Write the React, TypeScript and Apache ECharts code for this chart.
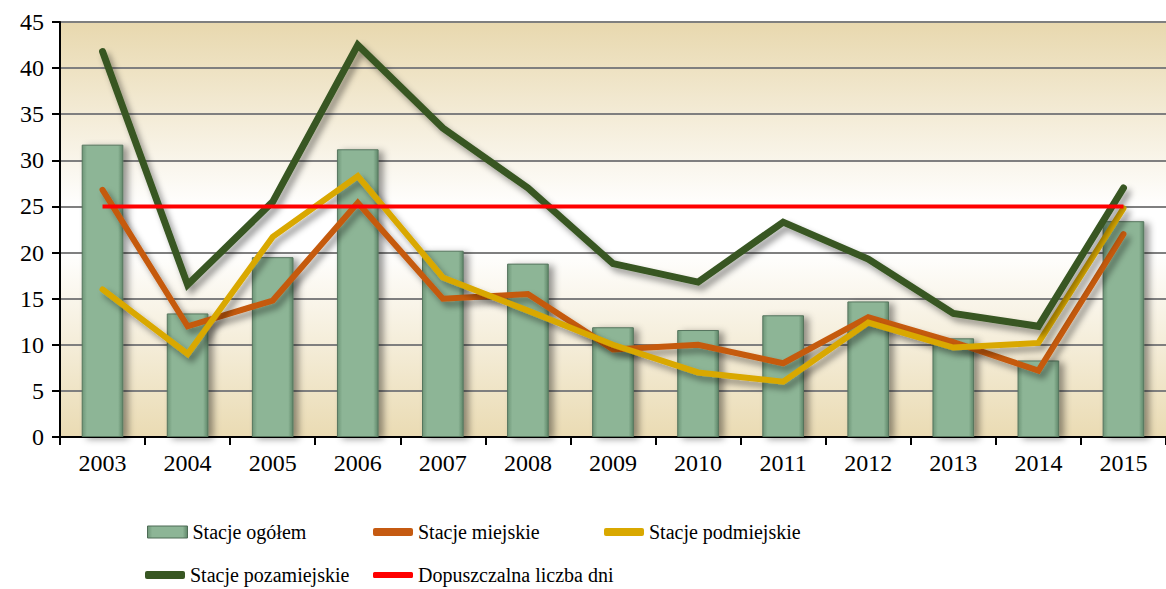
import React, { useEffect, useRef } from "react";
import * as echarts from "echarts";

const years = ["2003","2004","2005","2006","2007","2008","2009","2010","2011","2012","2013","2014","2015"];
const ogolem = [31.7, 13.4, 19.5, 31.2, 20.2, 18.8, 11.9, 11.6, 13.2, 14.7, 10.7, 8.3, 23.4];
const miejskie = [26.8, 12.0, 14.8, 25.4, 15.0, 15.5, 9.5, 10.0, 8.0, 13.0, 10.3, 7.2, 22.0];
const podmiejskie = [16.0, 9.0, 21.7, 28.3, 17.3, 13.7, 10.0, 7.0, 6.0, 12.4, 9.7, 10.2, 24.8];
const pozamiejskie = [41.8, 16.5, 25.5, 42.5, 33.5, 27.0, 18.8, 16.8, 23.3, 19.3, 13.4, 12.0, 27.0];
const dopuszczalna = [25, 25, 25, 25, 25, 25, 25, 25, 25, 25, 25, 25, 25];
const seriesNames = ["Stacje ogółem", "Stacje miejskie", "Stacje podmiejskie", "Stacje pozamiejskie", "Dopuszczalna liczba dni"];

const FONT = "Liberation Serif";

export default function App() {
  const ref = useRef<HTMLDivElement>(null);
  useEffect(() => {
    const chart = echarts.init(ref.current!, null, { renderer: "svg" });
    const shadow = { shadowColor: "rgba(0,0,0,0.4)", shadowBlur: 6, shadowOffsetX: 4, shadowOffsetY: 5 };
    const lineSeries = (name: string, data: number[], color: string, width: number) => ({
      name,
      type: "line",
      data,
      symbol: "none",
      z: 3,
      lineStyle: { color, width, cap: "round", join: "miter", ...shadow },
      itemStyle: { color },
    });
    const legendItem = (name: string, left: number, top: number, icon: string, itemHeight: number, extra: any = {}) => ({
      left,
      top,
      padding: 0,
      itemWidth: 40,
      itemHeight,
      itemGap: 0,
      textStyle: { fontFamily: FONT, fontSize: 20, color: "#000" },
      data: [{ name, icon, ...extra }],
    });
    chart.setOption({
      animation: false,
      textStyle: { fontFamily: FONT },
      grid: {
        left: 60,
        width: 1116,
        top: 22,
        height: 415,
        show: true,
        borderWidth: 0,
        backgroundColor: {
          type: "linear", x: 0, y: 0, x2: 0, y2: 1,
          colorStops: [
            { offset: 0, color: "#e8d8ae" },
            { offset: 0.45, color: "#ffffff" },
            { offset: 0.55, color: "#ffffff" },
            { offset: 1, color: "#eadbb3" },
          ],
        },
      },
      legend: [
        legendItem(seriesNames[0], 147, 522, "rect", 12, { itemStyle: { borderColor: "#4d6b55", borderWidth: 1 } }),
        legendItem(seriesNames[1], 373, 522, "roundRect", 8),
        legendItem(seriesNames[2], 604, 522, "roundRect", 8),
        legendItem(seriesNames[3], 145, 565, "roundRect", 8),
        legendItem(seriesNames[4], 373, 565, "roundRect", 6, { itemStyle: { color: "#ff0000" } }),
      ],
      xAxis: {
        type: "category",
        data: years,
        boundaryGap: true,
        axisLine: { lineStyle: { color: "#000", width: 2 } },
        axisTick: { show: true, length: 8, lineStyle: { color: "#000", width: 2 } },
        axisLabel: { fontFamily: FONT, fontSize: 24, color: "#000", margin: 14 },
      },
      yAxis: {
        type: "value",
        min: 0,
        max: 45,
        interval: 5,
        axisLine: { show: true, lineStyle: { color: "#000", width: 2 } },
        axisTick: { show: true, length: 8, lineStyle: { color: "#000", width: 2 } },
        axisLabel: { fontFamily: FONT, fontSize: 24, color: "#000", margin: 16 },
        splitLine: { lineStyle: { color: "#7f7f7f", width: 2 } },
      },
      series: [
        {
          name: seriesNames[0],
          type: "bar",
          data: ogolem,
          barWidth: "49%",
          z: 2,
          itemStyle: {
            color: {
              type: "linear", x: 0, y: 0, x2: 1, y2: 0,
              colorStops: [
                { offset: 0, color: "#6e9678" },
                { offset: 0.12, color: "#8db596" },
                { offset: 0.88, color: "#8db596" },
                { offset: 1, color: "#5f8769" },
              ],
            },
            borderColor: "#55745d",
            borderWidth: 1,
            shadowColor: "rgba(0,0,0,0.4)",
            shadowBlur: 7,
            shadowOffsetX: 5,
            shadowOffsetY: 2,
          },
        },
        lineSeries(seriesNames[1], miejskie, "#c55a11", 6),
        lineSeries(seriesNames[2], podmiejskie, "#d9a800", 6),
        lineSeries(seriesNames[3], pozamiejskie, "#385723", 7),
        {
          name: seriesNames[4],
          type: "line",
          data: dopuszczalna,
          symbol: "none",
          z: 4,
          lineStyle: { color: "#ff0000", width: 4 },
          itemStyle: { color: "#ff0000" },
        },
      ],
    });
    return () => chart.dispose();
  }, []);
  return <div ref={ref} style={{ width: 1166, height: 589, position: "absolute", left: 0, top: 0 }} />;
}
